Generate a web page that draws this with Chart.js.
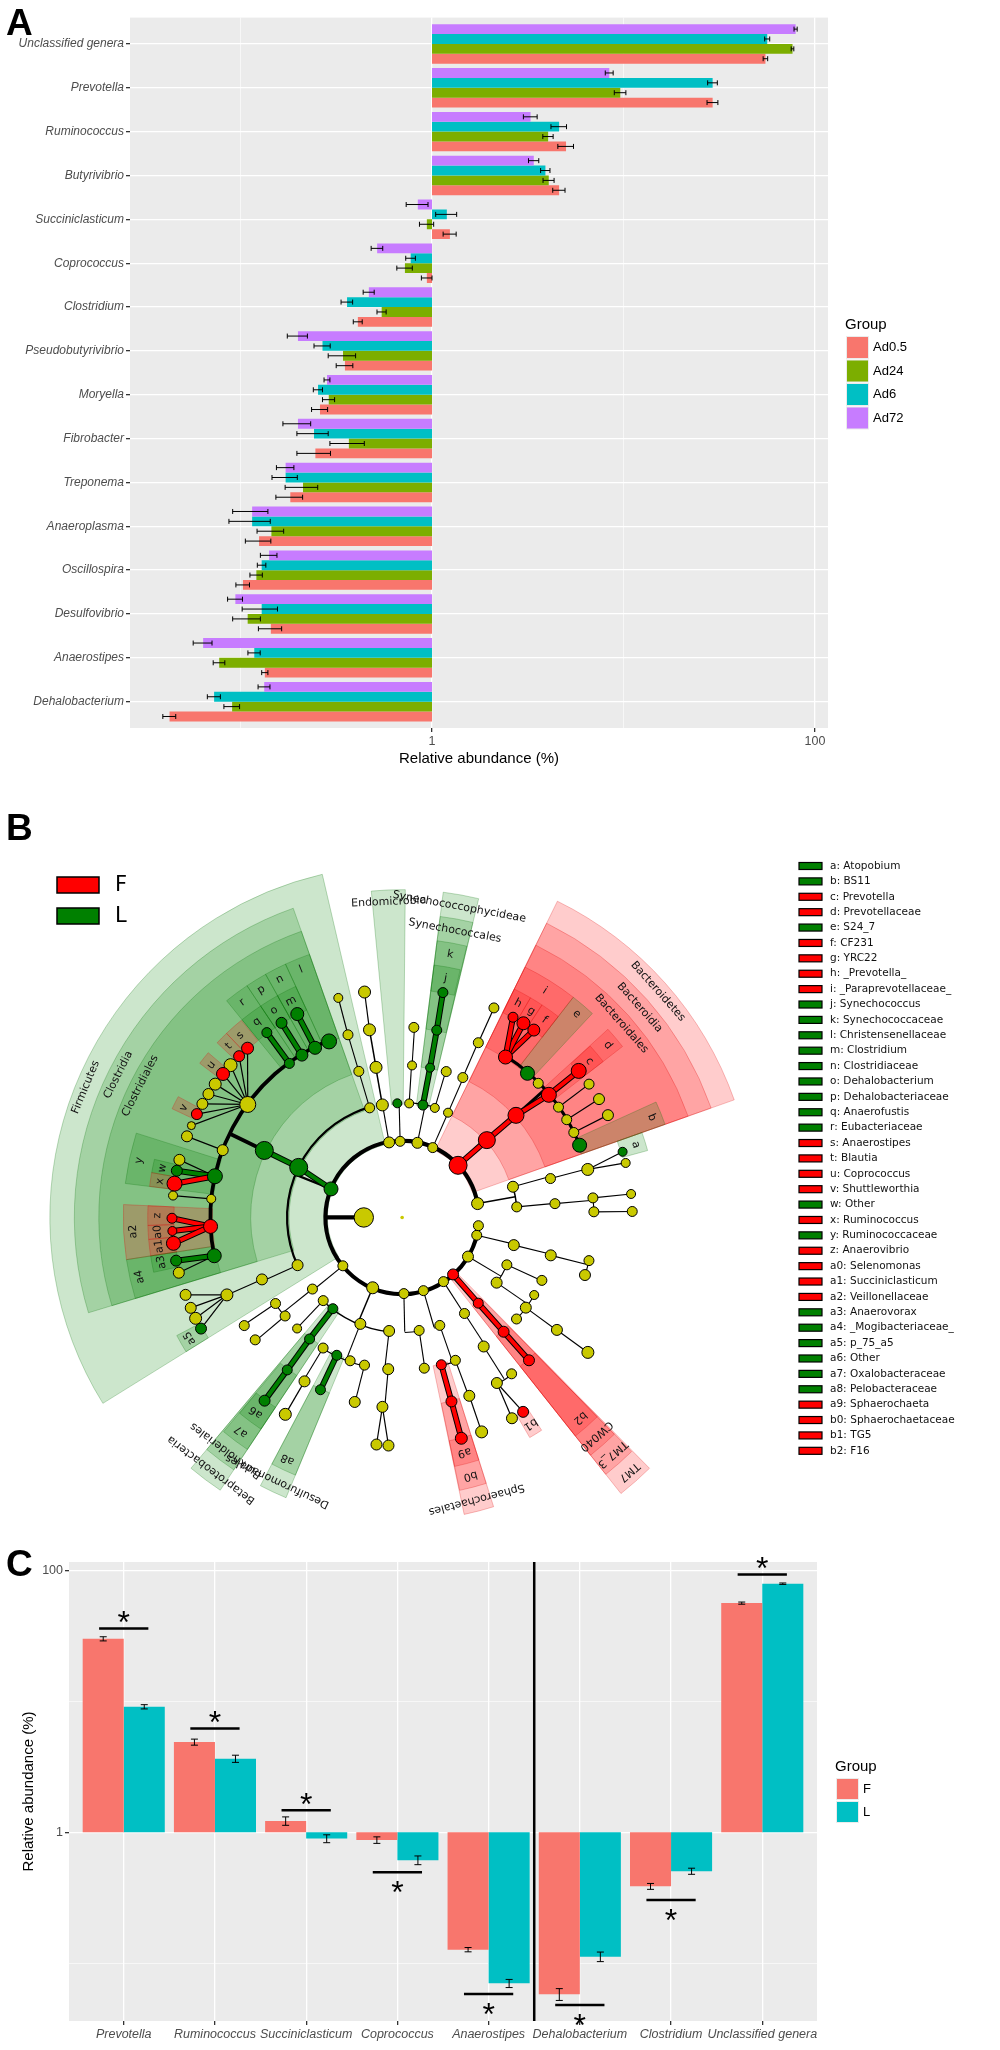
<!DOCTYPE html>
<html>
<head>
<meta charset="utf-8">
<script src="https://cdn.jsdelivr.net/npm/chart.js@4.4.1/dist/chart.umd.min.js"></script>
<style>
  body { margin: 0; background: #fff; width: 1000px; height: 2050px; position: relative; overflow: hidden; }
  canvas { position: absolute; left: 0; }
  #chartA { top: 0; }
  #chartB { top: 790px; }
  #chartC { top: 1540px; }
</style>
</head>
<body>
<canvas id="chartA" width="1000" height="790"></canvas>
<canvas id="chartB" width="1000" height="750"></canvas>
<canvas id="chartC" width="1000" height="510"></canvas>
<script>
const FONT = "'Liberation Sans', Arial, sans-serif";
const CLADO_FONT = "'DejaVu Sans', sans-serif";

// ---------- panel A data (top to bottom) ----------
const generaA = ['Unclassified genera', 'Prevotella', 'Ruminococcus', 'Butyrivibrio', 'Succiniclasticum',
  'Coprococcus', 'Clostridium', 'Pseudobutyrivibrio', 'Moryella', 'Fibrobacter', 'Treponema',
  'Anaeroplasma', 'Oscillospira', 'Desulfovibrio', 'Anaerostipes', 'Dehalobacterium'];
const groupsA = ['Ad0.5', 'Ad24', 'Ad6', 'Ad72'];
const colorsA = ['#F8766D', '#7CAE00', '#00BFC4', '#C77CFF'];
const meanAd05 = [55.1, 29.2, 5.01, 4.61, 1.24, 0.94, 0.41, 0.351, 0.26, 0.246, 0.182, 0.125, 0.103, 0.144, 0.134, 0.0426];
const meanAd24 = [76.3, 9.62, 4.04, 4.07, 0.94, 0.722, 0.546, 0.343, 0.289, 0.368, 0.212, 0.145, 0.121, 0.109, 0.0774, 0.0904];
const meanAd6  = [56.3, 29.2, 4.61, 3.91, 1.195, 0.774, 0.36, 0.268, 0.254, 0.242, 0.172, 0.115, 0.129, 0.129, 0.118, 0.0728];
const meanAd72 = [79.2, 8.43, 3.27, 3.40, 0.843, 0.517, 0.468, 0.1995, 0.283, 0.1995, 0.172, 0.115, 0.141, 0.094, 0.0638, 0.133];
const seAd05 = [1.5, 1.9, 0.47, 0.34, 0.097, 0.06, 0.022, 0.035, 0.025, 0.049, 0.029, 0.019, 0.0084, 0.02, 0.005, 0.0033];
const seAd24 = [1.2, 0.67, 0.25, 0.27, 0.08, 0.067, 0.03, 0.056, 0.021, 0.075, 0.041, 0.023, 0.009, 0.018, 0.0054, 0.0085];
const seAd6  = [1.7, 1.7, 0.43, 0.22, 0.15, 0.045, 0.025, 0.026, 0.014, 0.045, 0.026, 0.028, 0.0066, 0.027, 0.0087, 0.0057];
const seAd72 = [1.5, 0.4, 0.27, 0.21, 0.11, 0.036, 0.031, 0.024, 0.01, 0.033, 0.018, 0.024, 0.014, 0.0084, 0.0072, 0.0095];

// ---------- panel C data ----------
const generaC = ['Prevotella', 'Ruminococcus', 'Succiniclasticum', 'Coprococcus', 'Anaerostipes',
  'Dehalobacterium', 'Clostridium', 'Unclassified genera'];
const groupsC = ['F', 'L'];
const colorsC = ['#F8766D', '#00BFC4'];
const meanF = [30.1, 4.89, 1.22, 0.872, 0.1267, 0.0578, 0.386, 56.4];
const meanL = [9.1, 3.65, 0.894, 0.612, 0.070, 0.112, 0.504, 79.4];
const seF = [1.1, 0.26, 0.09, 0.05, 0.0048, 0.006, 0.02, 1.07];
const seL = [0.34, 0.23, 0.062, 0.047, 0.005, 0.0094, 0.027, 1.0];
const sigLevel = [36.1, 6.2, 1.47, 0.495, 0.058, 0.0478, 0.303, 93.3];
const dividerAt = 4.5;

// shared log axis breaks
const logBreaks = [0.1, 1, 10, 100];
const logLabelled = [1, 100];

// ---------- panel B data: cladogram, one list per taxonomic level ----------
// row: [angle (deg, counter-clockwise from east), parent index in previous level, group, node radius, label]
const kingdomRows = [[180, -1, '', 9.7]];
const phylumRows = [
  [10.5, 0, '', 6], [43.2, 0, 'F', 9, 'Bacteroidetes'], [66.5, 0, '', 5], [78.5, 0, '', 5.5],
  [91.5, 0, '', 5], [99.8, 0, '', 5.5], [158, 0, 'L', 7, 'Firmicutes'], [219.4, 0, '', 5],
  [247.4, 0, '', 6], [271.3, 0, '', 5], [286.1, 0, '', 5], [302.6, 0, '', 5],
  [311.6, 0, 'F', 5.5, 'TM7'], [329.1, 0, '', 5.5], [346.5, 0, '', 5], [353.8, 0, '', 5]
];
const classRows = [
  [15.6, 0, '', 5.5], [5.3, 0, '', 5], [42.6, 1, 'F', 8.5, 'Bacteroidia'], [66.5, 2, '', 4.5],
  [73.5, 3, '', 4.5], [79.6, 3, 'L', 5, 'Synechococcophycideae'], [86.5, 3, '', 4.5],
  [92.4, 4, 'L', 4.5, 'Endomicrobia'], [99.9, 5, '', 6], [106.4, 6, '', 5],
  [154, 6, 'L', 9, 'Clostridia'], [204.7, 6, '', 5.5], [218.8, 7, '', 5], [226.7, 8, '', 5],
  [233, 8, 'L', 5, 'Betaproteobacteria'], [248.7, 8, '', 5.5], [263.5, 8, '', 5.5],
  [278.5, 9, '', 5], [289.1, 10, '', 5], [302.8, 11, '', 5], [311.4, 12, 'F', 5, 'TM7_3'],
  [325.2, 13, '', 5.5], [335.5, 13, '', 5], [346, 14, '', 5.5]
];
const orderRows = [
  [14.8, 0, '', 5], [5.2, 1, '', 5], [42.1, 2, 'F', 8, 'Bacteroidales'], [66.7, 3, '', 5],
  [73.3, 4, '', 5], [79.5, 5, 'L', 4.5, 'Synechococcales'], [86.3, 6, '', 4.5], [99.8, 8, '', 6],
  [106.4, 9, '', 5], [153.9, 10, 'L', 9, 'Clostridiales'], [204, 11, '', 5.5], [214.4, 12, '', 5],
  [220.3, 12, '', 5], [226.8, 13, '', 4.5], [232.9, 14, 'L', 5, 'Burkholderiales'], [239, 15, '', 5],
  [244.8, 15, 'L', 5, 'Desulfuromonadales'], [250.2, 15, '', 5], [255.8, 15, '', 5],
  [264.8, 16, '', 5.5], [278.3, 17, '', 5], [284.8, 18, 'F', 5, 'Sphaerochaetales'],
  [290.3, 18, '', 5], [302.1, 19, '', 5.5], [311.4, 20, 'F', 5.5, 'CW040'], [318.2, 21, '', 5],
  [323.7, 21, '', 5.5], [329.4, 21, '', 4.5], [335.6, 22, '', 5], [345.6, 23, '', 5.5]
];
const familyRows = [
  [14.6, 0, '', 6], [5.9, 1, '', 5], [1.7, 1, '', 5], [22.3, 2, 'L', 7, 'b'], [26.5, 2, '', 5],
  [30.9, 2, '', 5], [35.4, 2, '', 5], [40.1, 2, 'F', 7.5, 'd'], [44.8, 2, '', 5],
  [49.2, 2, 'L', 7, 'e'], [57.4, 2, 'F', 7, 'i'], [66.6, 3, '', 5], [79.6, 5, 'L', 5, 'k'],
  [86.5, 6, '', 5], [99.8, 7, '', 6], [106.4, 8, '', 5], [112.4, 9, 'L', 7.5, 'l'],
  [117, 9, 'L', 6.5, 'n'], [121.5, 9, 'L', 6, 'p'], [126, 9, 'L', 5, 'r'], [143.6, 9, '', 8],
  [159.3, 9, '', 5.5], [167.5, 9, 'L', 7.5, 'y'], [174.4, 9, '', 4.5], [182.7, 9, 'F', 7, 'a2'],
  [191.6, 9, 'L', 7, 'a4'], [204, 10, '', 6], [214.6, 11, '', 5], [220, 12, '', 5],
  [233.2, 14, 'L', 5, 'a7'], [239.4, 15, '', 5.5], [244.8, 16, 'L', 5, 'a8'], [255.7, 18, '', 5.5],
  [264.1, 19, '', 5.5], [284.9, 21, 'F', 5.5, 'b0'], [290.5, 22, '', 5.5], [299.6, 23, '', 5.5],
  [304.8, 23, '', 5], [311.4, 24, 'F', 5.5, 'b2'], [323.8, 26, '', 5.5], [346.9, 29, '', 5],
  [342.4, 29, '', 5.5]
];
const genusRows = [
  [16.7, 0, 'L', 4.5, 'a'], [13.8, 0, '', 4.5], [5.9, 1, '', 4.5], [1.5, 2, '', 5],
  [26.6, 4, '', 5.5], [31.2, 5, '', 5.5], [35.7, 6, '', 5], [39.9, 7, 'F', 7.5, 'c'],
  [55.1, 10, 'F', 6, 'f'], [58.2, 10, 'F', 6.5, 'g'], [61.2, 10, 'F', 5, 'h'], [66.5, 11, '', 5],
  [79.8, 12, 'L', 5, 'j'], [99.4, 14, '', 6], [106.1, 15, '', 4.5], [117.1, 17, 'L', 6.5, 'm'],
  [121.6, 18, 'L', 5.5, 'o'], [126, 19, 'L', 5, 'q'], [132.2, 20, 'F', 6, 's'],
  [135.1, 20, 'F', 5.5, 't'], [138.2, 20, '', 6.5], [141.1, 20, 'F', 6.5, 'u'], [144.3, 20, '', 6],
  [147.3, 20, '', 5.5], [150.2, 20, '', 5.5], [153.1, 20, 'F', 5.5, 'v'], [156.3, 20, '', 4],
  [159.2, 21, '', 5.5], [165.4, 22, '', 5.5], [168.2, 22, 'L', 5.5, 'w'], [171.5, 22, 'F', 7.5, 'x'],
  [174.5, 23, '', 4.5], [180.2, 24, 'F', 5, 'z'], [183.4, 24, 'F', 4.5, 'a0'], [186.5, 24, 'F', 7, 'a1'],
  [190.9, 25, 'L', 5.5, 'a3'], [194, 25, '', 5.5], [199.8, 26, '', 5.5], [203.3, 26, '', 5.5],
  [206.2, 26, '', 6], [209.1, 26, 'L', 5.5, 'a5'], [233.3, 29, 'L', 5.5, 'a6'], [239.5, 30, '', 6],
  [263.6, 33, '', 5.5], [266.6, 33, '', 5.5], [284.9, 34, 'F', 6, 'a9'], [290.2, 35, '', 6],
  [298.5, 36, '', 5.5], [301.7, 36, 'F', 5.5, 'b1'], [323.8, 39, '', 6]
];
const keyCodes = ['a', 'b', 'c', 'd', 'e', 'f', 'g', 'h', 'i', 'j', 'k', 'l', 'm', 'n', 'o', 'p', 'q', 'r', 's',
  't', 'u', 'v', 'w', 'x', 'y', 'z', 'a0', 'a1', 'a2', 'a3', 'a4', 'a5', 'a6', 'a7', 'a8', 'a9', 'b0', 'b1', 'b2'];
const keyNames = ['Atopobium', 'BS11', 'Prevotella', 'Prevotellaceae', 'S24_7', 'CF231', 'YRC22', '_Prevotella_',
  '_Paraprevotellaceae_', 'Synechococcus', 'Synechococcaceae', 'Christensenellaceae', 'Clostridium',
  'Clostridiaceae', 'Dehalobacterium', 'Dehalobacteriaceae', 'Anaerofustis', 'Eubacteriaceae', 'Anaerostipes',
  'Blautia', 'Coprococcus', 'Shuttleworthia', 'Other', 'Ruminococcus', 'Ruminococcaceae', 'Anaerovibrio',
  'Selenomonas', 'Succiniclasticum', 'Veillonellaceae', 'Anaerovorax', '_Mogibacteriaceae_', 'p_75_a5', 'Other',
  'Oxalobacteraceae', 'Pelobacteraceae', 'Sphaerochaeta', 'Sphaerochaetaceae', 'TG5', 'F16'];

// cladogram geometry
const ringStep = 39.2;
const outerTop = 260, outerStep = 25, sectorPad = 3;
const ringR = L => L * ringStep;
const outerR = L => outerTop + outerStep * (6 - L);
const cladeFill = { F: 'rgba(255,0,0,0.2)', L: 'rgba(0,128,0,0.2)' };
const cladeLine = { F: 'rgba(220,0,0,0.25)', L: 'rgba(0,110,0,0.25)' };
const cladeSolid = { F: '#ff0000', L: '#008000' };
const nodeFill = { F: '#ff0000', L: '#008000', '': '#c9c900' };

// ---------- build tree ----------
const built = [];
const nodes = [];
[kingdomRows, phylumRows, classRows, orderRows, familyRows, genusRows].forEach((rows, li) => {
  built[li] = rows.map(([a, p, g, s, label]) => {
    const n = { level: li + 1, a, g, s, label: label || '', parent: li ? built[li - 1][p] : null, kids: [] };
    if (n.parent) n.parent.kids.push(n);
    nodes.push(n);
    return n;
  });
});
function span(n) {
  n.lo = n.a; n.hi = n.a;
  n.kids.forEach(k => { span(k); n.lo = Math.min(n.lo, k.lo); n.hi = Math.max(n.hi, k.hi); });
}
span(built[0][0]);
const leafAngles = nodes.filter(n => !n.kids.length).map(n => n.a);
nodes.filter(n => n.g).forEach(n => {
  const below = leafAngles.filter(a => a < n.lo - 0.01);
  const above = leafAngles.filter(a => a > n.hi + 0.01);
  const gl = below.length ? n.lo - Math.max(...below) : 99;
  const gh = above.length ? Math.min(...above) - n.hi : 99;
  n.from = n.lo - Math.min(sectorPad, gl / 2);
  n.to = n.hi + Math.min(sectorPad, gh / 2);
});

const rad = d => d * Math.PI / 180;
const polar = (r, a) => ({ x: r * Math.cos(rad(a)), y: r * Math.sin(rad(a)) });

// ---------- shared plugins ----------
const panelBg = {
  id: 'panelBg',
  beforeDraw(chart, args, o) {
    if (!o.color) return;
    const { ctx, chartArea: c } = chart;
    ctx.save();
    ctx.fillStyle = o.color;
    ctx.fillRect(c.left, c.top, c.width, c.height);
    ctx.restore();
  }
};

const panelTag = {
  id: 'panelTag',
  afterDraw(chart, args, o) {
    const ctx = chart.ctx;
    ctx.save();
    ctx.font = `bold 37px ${FONT}`;
    ctx.fillStyle = '#000';
    ctx.textBaseline = 'alphabetic';
    ctx.fillText(o.text, o.x, o.y);
    ctx.restore();
  }
};

const groupLegend = {
  id: 'groupLegend',
  afterDraw(chart, args, o) {
    if (!o.items) return;
    const ctx = chart.ctx;
    ctx.save();
    ctx.textBaseline = 'middle';
    ctx.fillStyle = '#000';
    ctx.font = `15px ${FONT}`;
    ctx.fillText(o.title, o.x, o.titleY);
    ctx.font = `13px ${FONT}`;
    o.items.forEach((it, i) => {
      const top = o.keyTop + i * o.step;
      ctx.fillStyle = '#ebebeb';
      ctx.fillRect(o.x + 1, top - 1, o.keyW + 2, o.keyH + 2);
      ctx.fillStyle = it.color;
      ctx.fillRect(o.x + 2, top, o.keyW, o.keyH);
      ctx.fillStyle = '#000';
      ctx.fillText(it.label, o.x + o.keyW + 7, top + o.keyH / 2);
    });
    ctx.restore();
  }
};

const errorBars = {
  id: 'errorBars',
  afterDatasetsDraw(chart, args, o) {
    const ctx = chart.ctx;
    const vScale = o.horizontal ? chart.scales.x : chart.scales.y;
    ctx.save();
    ctx.strokeStyle = '#000';
    ctx.lineWidth = 1;
    chart.data.datasets.forEach((ds, di) => {
      chart.getDatasetMeta(di).data.forEach((bar, i) => {
        const lo = vScale.getPixelForValue(ds.mean[i] - ds.se[i]);
        const hi = vScale.getPixelForValue(ds.mean[i] + ds.se[i]);
        ctx.beginPath();
        if (o.horizontal) {
          const y = bar.y;
          ctx.moveTo(lo, y); ctx.lineTo(hi, y);
          ctx.moveTo(lo, y - o.cap); ctx.lineTo(lo, y + o.cap);
          ctx.moveTo(hi, y - o.cap); ctx.lineTo(hi, y + o.cap);
        } else {
          const x = bar.x;
          ctx.moveTo(x, lo); ctx.lineTo(x, hi);
          ctx.moveTo(x - o.cap, lo); ctx.lineTo(x + o.cap, lo);
          ctx.moveTo(x - o.cap, hi); ctx.lineTo(x + o.cap, hi);
        }
        ctx.stroke();
      });
    });
    ctx.restore();
  }
};

const logAxis = (min, max) => ({
  type: 'logarithmic',
  min, max,
  afterBuildTicks: s => { s.ticks = logBreaks.map(v => ({ value: v })); },
  ticks: {
    autoSkip: false, maxRotation: 0, padding: 2, color: '#4d4d4d',
    font: { family: FONT, size: 12.5 },
    callback: v => logLabelled.includes(v) ? String(v) : ''
  },
  grid: {
    color: '#ffffff',
    lineWidth: c => logLabelled.includes(c.tick && c.tick.value) ? 1.3 : 0.6,
    tickColor: c => logLabelled.includes(c.tick && c.tick.value) ? '#333333' : 'rgba(0,0,0,0)',
    tickLength: 4
  },
  border: { display: false }
});

// discrete axis on a linear scale so the ggplot 0.6 expansion can be kept
const discreteAxis = (names, italicSize) => ({
  type: 'linear',
  offset: false,
  min: -0.6, max: names.length - 0.4,
  afterBuildTicks: s => { s.ticks = names.map((_, i) => ({ value: i })); },
  ticks: {
    autoSkip: false, maxRotation: 0, minRotation: 0, padding: 2, color: '#4d4d4d',
    font: { family: FONT, size: italicSize, style: 'italic' },
    callback: v => names[v]
  },
  grid: { offset: false, color: '#ffffff', lineWidth: 1.3, tickColor: '#333333', tickLength: 4 },
  border: { display: false }
});

// ---------- panel A ----------
const meansA = [meanAd05, meanAd24, meanAd6, meanAd72];
const sesA = [seAd05, seAd24, seAd6, seAd72];
const datasetsA = [3, 2, 1, 0].map(g => ({
  label: groupsA[g],
  data: meansA[g].map((v, i) => ({ y: i, x: [1, v] })),
  mean: meansA[g],
  se: sesA[g],
  backgroundColor: colorsA[g],
  borderWidth: 0,
  barPercentage: 1,
  categoryPercentage: 0.9
}));

const yA = discreteAxis(generaA, 12);
yA.reverse = true;
yA.afterFit = s => { s.width = 130; };
const xA = logAxis(0.02648, 116.9);
xA.afterFit = s => { s.height = 62; };
xA.title = { display: true, text: 'Relative abundance (%)', color: '#000', font: { family: FONT, size: 15 }, padding: { top: 2, bottom: 22 } };

new Chart(document.getElementById('chartA'), {
  type: 'bar',
  data: { datasets: datasetsA },
  plugins: [panelBg, errorBars, groupLegend, panelTag],
  options: {
    indexAxis: 'y',
    responsive: false,
    animation: false,
    events: [],
    layout: { padding: { top: 17.6, right: 172, bottom: 0, left: 0 } },
    scales: { x: xA, y: yA },
    plugins: {
      legend: { display: false },
      tooltip: { enabled: false },
      panelBg: { color: '#ebebeb' },
      errorBars: { horizontal: true, cap: 2.5 },
      groupLegend: {
        title: 'Group', x: 845, titleY: 325, keyTop: 337, step: 23.5, keyW: 21, keyH: 21,
        items: groupsA.map((g, i) => ({ label: g, color: colorsA[i] }))
      },
      panelTag: { text: 'A', x: 6, y: 35 }
    }
  }
});

// ---------- panel B ----------
const cladogram = {
  id: 'cladogram',
  beforeDatasetsDraw(chart) {
    const { ctx, scales: { x, y } } = chart;
    const cx = x.getPixelForValue(0), cy = y.getPixelForValue(0);
    const pr = r => x.getPixelForValue(r) - cx;
    const pt = (r, a) => { const p = polar(r, a); return [x.getPixelForValue(p.x), y.getPixelForValue(p.y)]; };
    ctx.save();
    // highlight sectors
    nodes.filter(n => n.g).sort((a, b) => a.level - b.level).forEach(n => {
      const rin = pr(ringR(n.level) - 2), rout = pr(outerR(n.level));
      ctx.beginPath();
      ctx.arc(cx, cy, rout, -rad(n.to), -rad(n.from));
      ctx.arc(cx, cy, rin, -rad(n.from), -rad(n.to), true);
      ctx.closePath();
      ctx.fillStyle = cladeFill[n.g];
      ctx.fill();
      ctx.strokeStyle = cladeLine[n.g];
      ctx.lineWidth = 1;
      ctx.stroke();
    });
    // black branches
    ctx.strokeStyle = '#000';
    ctx.lineCap = 'butt';
    nodes.forEach(p => {
      if (!p.kids.length) return;
      const rp = ringR(p.level), rc = ringR(p.level + 1);
      if (p.level === 5) {
        ctx.lineWidth = 1.2;
        p.kids.forEach(k => {
          const a = pt(rp, p.a), b = pt(rc, k.a);
          ctx.beginPath(); ctx.moveTo(a[0], a[1]); ctx.lineTo(b[0], b[1]); ctx.stroke();
        });
      } else {
        ctx.lineWidth = Math.max(1.1, Math.min(4.2, (p.s - 4) * 0.75));
        const angs = p.kids.map(k => k.a).concat(p.a);
        const lo = Math.min(...angs), hi = Math.max(...angs);
        const a = pt(rp, p.a), b = pt(rc, p.a);
        ctx.beginPath(); ctx.moveTo(a[0], a[1]); ctx.lineTo(b[0], b[1]); ctx.stroke();
        if (hi - lo > 0.05) {
          ctx.beginPath(); ctx.arc(cx, cy, pr(rc), -rad(hi), -rad(lo)); ctx.stroke();
        }
      }
    });
    // coloured branches inside highlighted lineages
    nodes.forEach(k => {
      const p = k.parent;
      if (!p || !k.g || !p.g) return;
      if (p.level !== 5 && Math.abs(k.a - p.a) > 4) return;
      const a = pt(ringR(p.level), p.a), b = pt(ringR(k.level), k.a);
      [['#000', 6], [cladeSolid[k.g], 4]].forEach(([c, w]) => {
        ctx.strokeStyle = c; ctx.lineWidth = w;
        ctx.beginPath(); ctx.moveTo(a[0], a[1]); ctx.lineTo(b[0], b[1]); ctx.stroke();
      });
    });
    ctx.restore();
  },
  afterDatasetsDraw(chart) {
    const { ctx, scales: { x, y } } = chart;
    const pt = (r, a) => { const p = polar(r, a); return [x.getPixelForValue(p.x), y.getPixelForValue(p.y)]; };
    ctx.save();
    // clade labels, tangential
    ctx.fillStyle = '#111';
    ctx.textAlign = 'center';
    ctx.textBaseline = 'middle';
    ctx.font = `11px ${CLADO_FONT}`;
    nodes.filter(n => n.g).forEach(n => {
      const a = (n.from + n.to) / 2;
      const [px, py] = pt(outerR(n.level) - 10, a);
      ctx.save();
      ctx.translate(px, py);
      ctx.rotate(rad(90 - a));
      ctx.fillText(n.label, 0, 0);
      ctx.restore();
    });
    // F / L legend
    ctx.textAlign = 'left';
    ctx.font = `21px ${CLADO_FONT}`;
    groupsC.forEach((g, i) => {
      const top = 87 + i * 31;
      ctx.fillStyle = cladeSolid[g];
      ctx.fillRect(57, top, 42, 16);
      ctx.strokeStyle = '#000'; ctx.lineWidth = 1.5;
      ctx.strokeRect(57, top, 42, 16);
      ctx.fillStyle = '#000';
      ctx.fillText(g, 115, top + 9);
    });
    // letter key
    ctx.font = `10.5px ${CLADO_FONT}`;
    keyCodes.forEach((code, i) => {
      const yy = 76 + i * 15.39;
      const n = nodes.find(m => m.label === code);
      ctx.fillStyle = cladeSolid[n ? n.g : 'L'];
      ctx.fillRect(799, yy - 3.5, 23, 7);
      ctx.strokeStyle = '#000'; ctx.lineWidth = 1.2;
      ctx.strokeRect(799, yy - 3.5, 23, 7);
      ctx.fillStyle = '#111';
      ctx.fillText(`${code}: ${keyNames[i]}`, 830, yy);
    });
    ctx.restore();
  }
};

const bubbleNodes = [{ x: 0, y: 0, r: 1.8, g: '', b: 0 }].concat(nodes.map(n => {
  const p = polar(ringR(n.level), n.a);
  return { x: p.x, y: p.y, r: n.s, g: n.g, b: 1 };
}));

new Chart(document.getElementById('chartB'), {
  type: 'bubble',
  data: {
    datasets: [{
      data: bubbleNodes,
      backgroundColor: c => nodeFill[c.raw ? c.raw.g : ''],
      borderColor: '#000',
      borderWidth: c => c.raw ? c.raw.b : 1,
      clip: false
    }]
  },
  plugins: [cladogram, panelTag],
  options: {
    responsive: false,
    animation: false,
    events: [],
    layout: { padding: 0 },
    scales: {
      x: { display: false, min: -400, max: 600 },
      y: { display: false, min: -321, max: 429 }
    },
    plugins: {
      legend: { display: false },
      tooltip: { enabled: false },
      panelTag: { text: 'B', x: 6, y: 50 }
    }
  }
});

// ---------- panel C ----------
const sigMarks = {
  id: 'sigMarks',
  afterDatasetsDraw(chart) {
    const { ctx, chartArea: c, scales: { x, y } } = chart;
    ctx.save();
    ctx.strokeStyle = '#000';
    ctx.fillStyle = '#000';
    ctx.lineWidth = 2.5;
    const xd = x.getPixelForValue(dividerAt);
    ctx.beginPath(); ctx.moveTo(xd, c.top); ctx.lineTo(xd, c.bottom); ctx.stroke();
    ctx.font = `32px ${FONT}`;
    ctx.textAlign = 'center';
    ctx.textBaseline = 'alphabetic';
    sigLevel.forEach((lv, i) => {
      const yy = y.getPixelForValue(lv);
      ctx.beginPath();
      ctx.moveTo(x.getPixelForValue(i - 0.27), yy);
      ctx.lineTo(x.getPixelForValue(i + 0.27), yy);
      ctx.stroke();
      ctx.fillText('*', x.getPixelForValue(i), lv > 1 ? yy + 4.5 : yy + 31);
    });
    ctx.restore();
  }
};

const meansC = [meanF, meanL];
const sesC = [seF, seL];
const datasetsC = groupsC.map((g, gi) => ({
  label: g,
  data: meansC[gi].map((v, i) => ({ x: i, y: [1, v] })),
  mean: meansC[gi],
  se: sesC[gi],
  backgroundColor: colorsC[gi],
  borderWidth: 0,
  barPercentage: 1,
  categoryPercentage: 0.9
}));

const xC = discreteAxis(generaC, 12.5);
xC.afterFit = s => { s.height = 29; };
const yC = logAxis(0.03608, 116.3);
yC.afterFit = s => { s.width = 69; };
yC.title = { display: true, text: 'Relative abundance (%)', color: '#000', font: { family: FONT, size: 15 }, padding: { top: 20, bottom: 0 } };

new Chart(document.getElementById('chartC'), {
  type: 'bar',
  data: { datasets: datasetsC },
  plugins: [panelBg, errorBars, sigMarks, groupLegend, panelTag],
  options: {
    responsive: false,
    animation: false,
    events: [],
    layout: { padding: { top: 22, right: 183, bottom: 0, left: 0 } },
    scales: { x: xC, y: yC },
    plugins: {
      legend: { display: false },
      tooltip: { enabled: false },
      panelBg: { color: '#ebebeb' },
      errorBars: { horizontal: false, cap: 3.5 },
      groupLegend: {
        title: 'Group', x: 835, titleY: 227, keyTop: 239, step: 23, keyW: 21, keyH: 20,
        items: groupsC.map((g, i) => ({ label: g, color: colorsC[i] }))
      },
      panelTag: { text: 'C', x: 6, y: 36 }
    }
  }
});
</script>
</body>
</html>
